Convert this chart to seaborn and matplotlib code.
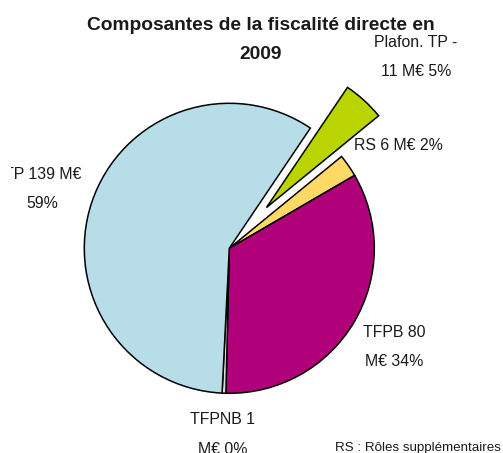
import matplotlib
matplotlib.use("Agg")
import matplotlib.pyplot as plt
from matplotlib.transforms import Bbox, TransformedBbox
import seaborn as sns

# ---- data ----
categories = ["Plafon. TP", "RS", "TFPB", "TFPNB", "TP"]
values_meur = [11, 6, 80, 1, 139]
percent_labels = ["5%", "2%", "34%", "0%", "59%"]
slice_labels = ["Plafon. TP -\n11 M€ 5%", "RS 6 M€ 2%", "TFPB 80\nM€ 34%",
                "TFPNB 1\nM€ 0%", "TP 139 M€\n59%"]
title = "Composantes de la fiscalité directe en\n2009"
note = "RS : Rôles supplémentaires"

# ---- style ----
sns.set_theme(style="white")
plt.rcParams["font.family"] = ["Liberation Sans", "DejaVu Sans"]

colors = ["#B9D400", "#FFD966", "#B0007A", "#D9D9D9", "#B7DEE8"]
explode = [0.38, 0, 0, 0, 0]

W, H = 503, 453
fig = plt.figure(figsize=(W / 100, H / 100), dpi=100)
ax = fig.add_axes([0, 0, 1, 1])

wedges, _ = ax.pie(values_meur, colors=colors, explode=explode, startangle=56,
                   counterclock=False, radius=1,
                   wedgeprops=dict(edgecolor="black", linewidth=1.1))

cx, cy, R = 229.3, 248.3, 145.0
ax.set_xlim(-cx / R, (W - cx) / R)
ax.set_ylim(-(H - cy) / R, cy / R)
ax.set_aspect("equal")
ax.axis("off")

def px(x, y):
    return x / W, 1 - y / H

# label placement (pixel centers)
label_pos = [(416, 57), (398.5, 146), (394, 347), (222.5, 434.5), (42.5, 189)]
clip = TransformedBbox(Bbox([[10.5 / W, 0], [1, 1]]), fig.transFigure)
for lab, (x, y) in zip(slice_labels, label_pos):
    fx, fy = px(x, y)
    t = fig.text(fx, fy, lab, ha="center", va="center", fontsize=11.4,
                 linespacing=2.2, color="#1a1a1a")
    t.set_clip_box(clip)
    t.set_clip_on(True)

tx, ty = px(261, 40)
fig.text(tx, ty, title, ha="center", va="center", fontsize=13.8,
         fontweight="bold", linespacing=1.85, color="#1a1a1a")

nx, ny = px(418, 448)
fig.text(nx, ny, note, ha="center", va="center", fontsize=9.6, color="#1a1a1a")

fig.savefig("out.png", dpi=100, facecolor="white")
